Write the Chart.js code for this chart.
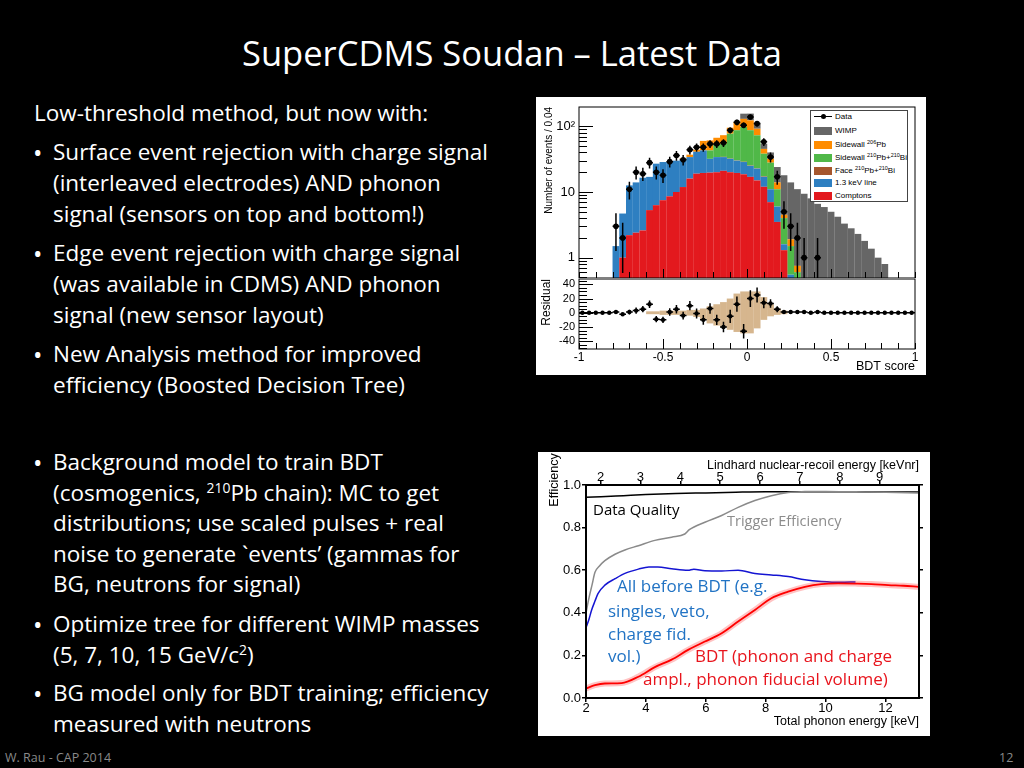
<!DOCTYPE html>
<html>
<head>
<meta charset="utf-8">
<script src="https://cdn.jsdelivr.net/npm/chart.js@4.4.1/dist/chart.umd.min.js"></script>
<style>
  body { margin: 0; width: 1024px; height: 768px; overflow: hidden; background: #000; position: relative;
         font-family: 'Open Sans', sans-serif; color: #fff; }
  .ln { position: absolute; white-space: nowrap; font-size: 22.5px; line-height: 30px; }
  .ln.b { font-size: 25px; left: 33px; }
  .ln sup, .ann sup { font-size: 0.62em; vertical-align: super; line-height: 0; }
  .ann { position: absolute; white-space: nowrap; line-height: 1.362; }
  .box { position: absolute; background: #fff; }
  .box canvas { position: absolute; left: 0; }
  #bdtLegend { position: absolute; left: 274px; top: 13px; width: 96px; height: 90px; border: 1px solid #444;
               background: #fff; font: 8px 'Liberation Sans', Arial, sans-serif; color: #000; }
  #bdtLegend .row { position: absolute; left: 0; height: 10px; line-height: 10px; padding-left: 24px; white-space: nowrap; }
  #bdtLegend .row sup { font-size: 5.5px; vertical-align: 3px; line-height: 0; }
  #bdtLegend .mk { position: absolute; left: 3px; top: 1px; width: 18px; height: 8px; }
  #bdtLegend .mk.data { top: 4px; height: 0; border-top: 1.5px solid #000; }
  #bdtLegend .mk.data::after { content: ''; position: absolute; left: 6.5px; top: -3.5px; width: 5px; height: 5px;
                               border-radius: 50%; background: #000; }
</style>
</head>
<body>

<div class="ln" style="left:0;width:1024px;text-align:center;top:29px;font-size:34.5px;line-height:47px;">SuperCDMS Soudan – Latest Data</div>

<div class="ln" style="left:34px;top:98px;">Low-threshold method, but now with:</div>
<div class="ln b" style="top:137px;">•</div>
<div class="ln" style="left:53px;top:137px;">Surface event rejection with charge signal</div>
<div class="ln" style="left:53px;top:168px;">(interleaved electrodes) AND phonon</div>
<div class="ln" style="left:53px;top:199px;">signal (sensors on top and bottom!)</div>
<div class="ln b" style="top:238px;">•</div>
<div class="ln" style="left:53px;top:238px;">Edge event rejection with charge signal</div>
<div class="ln" style="left:53px;top:269px;">(was available in CDMS) AND phonon</div>
<div class="ln" style="left:53px;top:300px;">signal (new sensor layout)</div>
<div class="ln b" style="top:339px;">•</div>
<div class="ln" style="left:53px;top:339px;">New Analysis method for improved</div>
<div class="ln" style="left:53px;top:370px;">efficiency (Boosted Decision Tree)</div>
<div class="ln b" style="top:447px;">•</div>
<div class="ln" style="left:53px;top:447px;">Background model to train BDT</div>
<div class="ln" style="left:53px;top:478px;">(cosmogenics, <sup>210</sup>Pb chain): MC to get</div>
<div class="ln" style="left:53px;top:508px;">distributions; use scaled pulses + real</div>
<div class="ln" style="left:53px;top:539px;">noise to generate `events’ (gammas for</div>
<div class="ln" style="left:53px;top:569px;">BG, neutrons for signal)</div>
<div class="ln b" style="top:609px;">•</div>
<div class="ln" style="left:53px;top:609px;">Optimize tree for different WIMP masses</div>
<div class="ln" style="left:53px;top:640px;">(5, 7, 10, 15 GeV/c<sup>2</sup>)</div>
<div class="ln b" style="top:678px;">•</div>
<div class="ln" style="left:53px;top:678px;">BG model only for BDT training; efficiency</div>
<div class="ln" style="left:53px;top:709px;">measured with neutrons</div>

<div class="ann" style="left:5px;top:749px;font-size:12.5px;color:#8a8a8a;">W. Rau - CAP 2014</div>
<div class="ann" style="left:999px;top:749px;font-size:12.5px;color:#8a8a8a;">12</div>

<!-- BDT score distribution -->
<div class="box" style="left:536px;top:97px;width:390px;height:278px;">
  <canvas id="histChart" width="390" height="182" style="top:0;"></canvas>
  <canvas id="residChart" width="390" height="96" style="top:182px;"></canvas>
  <div id="bdtLegend">
    <div class="row" style="top:1px;"><span class="mk data"></span>Data</div>
    <div class="row" style="top:15px;"><span class="mk" style="background:#666666;"></span>WIMP</div>
    <div class="row" style="top:28.5px;"><span class="mk" style="background:#ff8c00;"></span>Sidewall <sup>206</sup>Pb</div>
    <div class="row" style="top:42px;"><span class="mk" style="background:#50b848;"></span>Sidewall <sup>210</sup>Pb+<sup>210</sup>Bi</div>
    <div class="row" style="top:54.5px;"><span class="mk" style="background:#a5562d;"></span>Face <sup>210</sup>Pb+<sup>210</sup>Bi</div>
    <div class="row" style="top:67px;"><span class="mk" style="background:#2e7fc1;"></span>1.3 keV line</div>
    <div class="row" style="top:79.5px;"><span class="mk" style="background:#e3191e;"></span>Comptons</div>
  </div>
</div>

<!-- efficiency curves -->
<div class="box" style="left:538px;top:452px;width:392px;height:284px;">
  <canvas id="effChart" width="392" height="284" style="top:0;"></canvas>
</div>
<div class="ann" style="left:553.7px;top:480px;font:12.5px 'Liberation Sans',Arial,sans-serif;color:#000;transform:translate(-50%,-50%) rotate(-90deg);">Efficiency</div>
<div class="ann" style="left:593px;top:499px;font-size:15px;color:#000;">Data Quality</div>
<div class="ann" style="left:727px;top:510.5px;font-size:14.5px;color:#8c8c8c;">Trigger Efficiency</div>
<div class="ann" style="left:617px;top:574px;font-size:17px;color:#2173c4;">All before BDT (e.g.</div>
<div class="ann" style="left:608px;top:598.5px;font-size:17px;color:#2173c4;">singles, veto,</div>
<div class="ann" style="left:608px;top:622px;font-size:17px;color:#2173c4;">charge fid.</div>
<div class="ann" style="left:608px;top:643.5px;font-size:17px;color:#2173c4;">vol.)</div>
<div class="ann" style="left:695px;top:643.5px;font-size:17px;color:#e8141c;">BDT (phonon and charge</div>
<div class="ann" style="left:643px;top:667px;font-size:17px;color:#e8141c;">ampl., phonon fiducial volume)</div>

<script>
// ---- BDT score histogram: 50 bins of 0.04 from -1 to 1 ----
const BIN_LO = -1;
const BIN_W = 0.04;

const DATA_COUNTS = [
  0, 0, 0, 0, 0,   3, 2, 11, 20, 19,
  28, 20, 18, 29, 36,   31, 44, 48, 48, 54,
  54, 56, 87, 115, 104,   139, 110, 58, 34, 17,
  5, 3, 2, 1, 0,   1, 0, 0, 0, 0,
  0, 0, 0, 0, 0,   0, 0, 0, 0, 0
];
const COMPTONS = [
  0, 0, 0, 0, 0,   0, 1.0, 2.2, 2.4, 2.6,
  5.3, 6.3, 7.5, 8.6, 10,   11.9, 16, 19, 19.5, 19.7,
  20, 21, 20, 19.5, 18.6,   17, 15, 12, 7, 3.5,
  1.3, 0, 0, 0, 0,   0, 0, 0, 0, 0,
  0, 0, 0, 0, 0,   0, 0, 0, 0, 0
];
const LINE_13KEV = [
  0, 0, 0, 0, 0,   1.5, 3.7, 10.4, 11.6, 13.9,
  11.7, 20.7, 21.1, 20, 20,   20.1, 18, 22, 23.5, 12.3,
  14, 13, 12, 10.5, 10,   8, 7.7, 5, 4, 2.5,
  0.3, 0.55, 0, 0, 0,   0, 0, 0, 0, 0,
  0, 0, 0, 0, 0,   0, 0, 0, 0, 0
];
const FACE = [
  0, 0, 0, 0, 0,   0, 0, 0, 0, 0,
  0, 0, 0, 0, 0,   0, 0, 0, 0, 0,
  0, 0.3, 0.3, 0.3, 0.3,   0.3, 0.3, 0.3, 0, 0,
  0, 0, 0, 0, 0,   0, 0, 0, 0, 0,
  0, 0, 0, 0, 0,   0, 0, 0, 0, 0
];
const SIDEWALL_210 = [
  0, 0, 0, 0, 0,   0, 0, 0, 0, 0,
  0, 0, 0, 0, 0,   0, 0, 0, 0, 11,
  20, 20, 45, 57, 69,   62, 50, 21, 17, 5,
  2.4, 0.95, 0.6, 0, 0,   0, 0, 0, 0, 0,
  0, 0, 0, 0, 0,   0, 0, 0, 0, 0
];
const SIDEWALL_206 = [
  0, 0, 0, 0, 0,   0, 0, 0, 0, 0,
  0, 0, 0, 0, 0,   1, 3, 3, 17, 18,
  13, 19, 18, 29, 32,   36, 19, 7, 4, 3,
  0.5, 0.4, 0.15, 0, 0,   0, 0, 0, 0, 0,
  0, 0, 0, 0, 0,   0, 0, 0, 0, 0
];
const WIMP = [
  0, 0, 0, 0, 0,   0, 0, 0, 0, 0,
  0, 0, 0, 0, 0,   0, 0, 0, 0, 0,
  0, 0, 0, 0, 26,   33, 18, 9, 8, 10,
  13.5, 12.1, 10.3, 9.4, 8,   6.6, 5.9, 5, 4.2, 3.3,
  2.8, 2.3, 1.8, 1.37, 1.0,   0.8, 0, 0, 0, 0
];
const RESIDUAL = [
  0, 0, 0, 0, 0,   1, -2, 1, 3, 5,
  12, -9, -10, 1, 5,   -4, 10, -1, -10, 6,
  -10, -20, -5, 12, -26,   20, 25, 14, 13, 5,
  1, 1, 1, 1, 0,   1, 0, 0, 0, 0,
  0, 0, 0, 0, 0,   0, 0, 0, 0, 0
];
// expected spread of the residual (tan band), bins 10..30
const BAND_FIRST = 10;
const BAND_LO = [-2, -2, -3, -3, -3, -3, -4, -6, -9, -15, -18, -21, -24, -27, -29, -29, -22, -10, -5, -3, -2];
const BAND_HI = [2, 2, 3, 3, 3, 3, 4, 4, 6, 9, 12, 15, 20, 27, 30, 30, 30, 22, 12, 6, 3];

// ---- efficiency vs total phonon energy [keV] ----
const DQ_E    = [2.0, 2.5, 3.0, 3.5, 4.0, 5.0, 6.0, 7.0, 8.0, 9.0, 10, 11, 12, 13.1];
const DQ_EFF  = [0.942, 0.945, 0.948, 0.952, 0.955, 0.96, 0.963, 0.966, 0.968, 0.968, 0.968, 0.968, 0.967, 0.967];
const TRIG_E   = [2.0, 2.1, 2.2, 2.3, 2.45, 2.63, 2.97, 3.3, 3.75, 4.3, 4.86, 5.3, 5.45, 5.97, 6.53, 7.08, 7.64, 8.19, 8.75, 9.31, 10, 11, 12, 13.1];
const TRIG_EFF = [0.40, 0.47, 0.53, 0.59, 0.62, 0.645, 0.675, 0.695, 0.715, 0.74, 0.755, 0.77, 0.79, 0.825, 0.857, 0.895, 0.927, 0.95, 0.965, 0.969, 0.97, 0.968, 0.966, 0.963];
const PRE_E   = [2.0, 2.1, 2.18, 2.3, 2.4, 2.63, 2.97, 3.3, 3.75, 4.1, 4.4, 4.86, 5.41, 5.6, 5.97, 6.53, 7.08, 7.64, 8.19, 8.75, 9.31, 9.86, 10.5, 11.0];
const PRE_EFF = [0.33, 0.37, 0.41, 0.455, 0.49, 0.53, 0.56, 0.585, 0.605, 0.615, 0.615, 0.607, 0.60, 0.605, 0.597, 0.596, 0.60, 0.585, 0.578, 0.57, 0.555, 0.547, 0.543, 0.545];
const BDT_E   = [2.0, 2.3, 2.63, 3.19, 3.75, 4.3, 4.86, 5.41, 5.75, 5.97, 6.53, 7.08, 7.64, 8.19, 8.75, 9.31, 9.86, 10.42, 11.0, 11.53, 12.09, 12.6, 13.1];
const BDT_EFF = [0.045, 0.06, 0.068, 0.07, 0.1, 0.145, 0.18, 0.226, 0.25, 0.265, 0.304, 0.359, 0.413, 0.468, 0.499, 0.522, 0.535, 0.538, 0.537, 0.535, 0.53, 0.527, 0.522];
const PHONON_TICKS = [2, 4, 6, 8, 10, 12];
const LINDHARD_TICKS = [2, 3, 4, 5, 6, 7, 8, 9];

Chart.defaults.font.family = "'Liberation Sans', Arial, sans-serif";
Chart.defaults.color = '#000';
Chart.defaults.animation = false;

const binCenters = DATA_COUNTS.map((_, i) => Math.round((BIN_LO + (i + 0.5) * BIN_W) * 1000) / 1000);
const asBins = arr => arr.map((v, i) => ({ x: binCenters[i], y: v }));
const xy = (xs, ys) => xs.map((x, i) => ({ x: x, y: ys[i] }));

function range(a, b, d) {
  const out = [];
  for (let v = a; v <= b + 1e-9; v += d) out.push(Math.round(v * 1000) / 1000);
  return out;
}

// fixed axis size, and no extra room for overhanging labels
function fixSize(prop, px) {
  return s => {
    s[prop] = px;
    s.paddingTop = 0; s.paddingBottom = 0; s.paddingLeft = 0; s.paddingRight = 0;
  };
}

// frame box plus inward tick marks, ROOT style
const rootAxes = {
  id: 'rootAxes',
  afterDraw(chart, args, opts) {
    const { ctx, chartArea: a } = chart;
    ctx.save();
    ctx.strokeStyle = '#000';
    ctx.lineWidth = 1;
    (opts.marks || []).forEach(m => {
      const s = chart.scales[m.scale];
      ctx.beginPath();
      m.values.forEach(v => {
        const p = Math.round(s.getPixelForValue(v)) + 0.5;
        if (m.edge === 'bottom') { ctx.moveTo(p, a.bottom); ctx.lineTo(p, a.bottom - m.len); }
        else { ctx.moveTo(a.left, p); ctx.lineTo(a.left + m.len, p); }
      });
      ctx.stroke();
    });
    ctx.lineWidth = opts.frameWidth || 1;
    ctx.strokeRect(a.left, a.top, a.right - a.left, a.bottom - a.top);
    ctx.restore();
  }
};

// poisson error bars + bin-width bars for the data points
const errorBars = {
  id: 'errorBars',
  afterDatasetsDraw(chart, args, opts) {
    const { ctx, chartArea: a, scales: { x, y } } = chart;
    const ds = chart.data.datasets[opts.dataset];
    ctx.save();
    ctx.beginPath();
    ctx.rect(a.left, a.top, a.right - a.left, a.bottom - a.top);
    ctx.clip();
    ctx.strokeStyle = '#000';
    ctx.lineWidth = 1.5;
    ctx.beginPath();
    ds.data.forEach((d, i) => {
      if (d.y == null) return;
      const err = Math.sqrt(opts.counts[i]);
      const px = x.getPixelForValue(d.x);
      const py = y.getPixelForValue(d.y);
      ctx.moveTo(x.getPixelForValue(d.x - BIN_W / 2), py);
      ctx.lineTo(x.getPixelForValue(d.x + BIN_W / 2), py);
      if (err > 0) {
        const lo = d.y - err;
        const yb = (y.type === 'logarithmic' && lo <= y.min) ? a.bottom : y.getPixelForValue(lo);
        ctx.moveTo(px, y.getPixelForValue(d.y + err));
        ctx.lineTo(px, yb);
      }
    });
    ctx.stroke();
    ctx.restore();
  }
};

const logMinor = [0.5, 0.6, 0.7, 0.8, 0.9, 2, 3, 4, 5, 6, 7, 8, 9, 20, 30, 40, 50, 60, 70, 80, 90];

new Chart(document.getElementById('histChart'), {
  type: 'bar',
  data: {
    datasets: [
      { label: 'Comptons', data: asBins(COMPTONS), backgroundColor: '#e3191e' },
      { label: '1.3 keV line', data: asBins(LINE_13KEV), backgroundColor: '#2e7fc1' },
      { label: 'Face 210Pb+210Bi', data: asBins(FACE), backgroundColor: '#a5562d' },
      { label: 'Sidewall 210Pb+210Bi', data: asBins(SIDEWALL_210), backgroundColor: '#50b848' },
      { label: 'Sidewall 206Pb', data: asBins(SIDEWALL_206), backgroundColor: '#ff8c00' },
      { label: 'WIMP', data: asBins(WIMP), backgroundColor: '#666666' },
      {
        type: 'line', label: 'Data', stack: 'data', order: -1,
        data: DATA_COUNTS.map((v, i) => ({ x: binCenters[i], y: v > 0 ? v : null })),
        showLine: false, pointRadius: 2.8, pointBackgroundColor: '#000', pointBorderWidth: 0
      }
    ]
  },
  options: {
    responsive: false,
    layout: { autoPadding: false, padding: { left: 0, right: 11, top: 10, bottom: 1 } },
    datasets: { bar: { barPercentage: 1.02, categoryPercentage: 1, borderWidth: 0 } },
    plugins: {
      legend: { display: false },
      tooltip: { enabled: false },
      errorBars: { dataset: 6, counts: DATA_COUNTS },
      rootAxes: {
        marks: [
          { scale: 'x', edge: 'bottom', values: range(-1, 1, 0.1), len: 6 },
          { scale: 'x', edge: 'bottom', values: [-0.5, 0, 0.5], len: 9 },
          { scale: 'y', edge: 'left', values: logMinor, len: 8 },
          { scale: 'y', edge: 'left', values: [1, 10, 100], len: 14 }
        ]
      }
    },
    scales: {
      x: { type: 'linear', min: -1, max: 1, offset: false, stacked: true, display: false },
      y: {
        type: 'logarithmic', min: 0.49, max: 197, stacked: true,
        afterBuildTicks: s => { s.ticks = [1, 10, 100].map(v => ({ value: v })); },
        ticks: { autoSkip: false, padding: 4, font: { size: 13 }, callback: v => v === 100 ? '10²' : String(v) },
        grid: { display: false, drawTicks: false },
        border: { display: false },
        title: { display: true, text: 'Number of events / 0.04', align: 'end', font: { size: 10 }, padding: { top: 7, bottom: 0 } },
        afterFit: fixSize('width', 43)
      }
    }
  },
  plugins: [rootAxes, errorBars]
});

const bandData = BAND_LO.map((lo, k) => ({ x: binCenters[BAND_FIRST + k], y: [lo, BAND_HI[k]] }));

new Chart(document.getElementById('residChart'), {
  type: 'bar',
  data: {
    datasets: [
      { label: 'expected spread', data: bandData, backgroundColor: '#d6b68e', borderWidth: 0, barPercentage: 1.02, categoryPercentage: 1 },
      {
        type: 'line', label: 'Residual', order: -1,
        data: asBins(RESIDUAL),
        showLine: false, pointRadius: 2.2, pointBackgroundColor: '#000', pointBorderWidth: 0
      }
    ]
  },
  options: {
    responsive: false,
    layout: { autoPadding: false, padding: { left: 0, right: 11, top: 0, bottom: 0 } },
    plugins: {
      legend: { display: false },
      tooltip: { enabled: false },
      errorBars: { dataset: 1, counts: DATA_COUNTS },
      rootAxes: {
        marks: [
          { scale: 'x', edge: 'bottom', values: range(-1, 1, 0.1), len: 6 },
          { scale: 'x', edge: 'bottom', values: [-0.5, 0, 0.5], len: 10 },
          { scale: 'y', edge: 'left', values: range(-50, 45, 5), len: 8 },
          { scale: 'y', edge: 'left', values: [-40, -20, 0, 20, 40], len: 14 }
        ]
      }
    },
    scales: {
      x: {
        type: 'linear', min: -1, max: 1, offset: false,
        afterBuildTicks: s => { s.ticks = [-1, -0.5, 0, 0.5, 1].map(v => ({ value: v })); },
        ticks: { autoSkip: false, maxRotation: 0, padding: 1, font: { size: 12 }, callback: v => String(v) },
        grid: { display: false, drawTicks: false },
        border: { display: false },
        title: { display: true, text: 'BDT score', align: 'end', font: { size: 12.5 }, padding: { top: 0, bottom: 1 } },
        afterFit: fixSize('height', 26)
      },
      y: {
        type: 'linear', min: -51, max: 47.5,
        afterBuildTicks: s => { s.ticks = [-40, -20, 0, 20, 40].map(v => ({ value: v })); },
        ticks: { autoSkip: false, padding: 4, font: { size: 11 }, callback: v => String(v) },
        grid: { display: false, drawTicks: false },
        border: { display: false },
        title: { display: true, text: 'Residual', align: 'end', font: { size: 12 }, padding: { top: 3, bottom: 0 } },
        afterFit: fixSize('width', 43)
      }
    }
  },
  plugins: [rootAxes, errorBars]
});

const curve = { showLine: true, pointRadius: 0, fill: false, cubicInterpolationMode: 'monotone' };
const tickGrid = { drawOnChartArea: false, drawTicks: true, tickLength: 4, color: '#000', lineWidth: 1.5 };

new Chart(document.getElementById('effChart'), {
  type: 'scatter',
  data: {
    datasets: [
      Object.assign({ label: 'BDT', data: xy(BDT_E, BDT_EFF), borderColor: '#ff0000', borderWidth: 1.8 }, curve),
      Object.assign({ label: 'BDT band', data: xy(BDT_E, BDT_EFF), borderColor: 'rgba(255,40,40,0.28)', borderWidth: 6 }, curve),
      Object.assign({ label: 'All before BDT', data: xy(PRE_E, PRE_EFF), borderColor: '#1414d2', borderWidth: 1.5 }, curve),
      Object.assign({ label: 'Trigger Efficiency', data: xy(TRIG_E, TRIG_EFF), borderColor: '#8a8a8a', borderWidth: 1.5 }, curve),
      Object.assign({ label: 'Data Quality', data: xy(DQ_E, DQ_EFF), borderColor: '#000000', borderWidth: 1.5 }, curve)
    ]
  },
  options: {
    responsive: false,
    layout: { autoPadding: false, padding: 0 },
    plugins: { legend: { display: false }, tooltip: { enabled: false }, rootAxes: { frameWidth: 2 } },
    scales: {
      x: {
        type: 'linear', position: 'bottom', min: 2, max: 13.12,
        afterBuildTicks: s => { s.ticks = PHONON_TICKS.map(v => ({ value: v })); },
        ticks: { autoSkip: false, padding: -1, font: { size: 13 }, maxRotation: 0, callback: v => String(v) },
        grid: tickGrid, border: { display: false },
        title: { display: true, text: 'Total phonon energy [keV]', align: 'end', font: { size: 12.5 }, padding: { top: 0, bottom: 7 } },
        afterFit: fixSize('height', 38)
      },
      x2: {
        type: 'linear', position: 'top', min: 1.634, max: 9.985,
        afterBuildTicks: s => { s.ticks = LINDHARD_TICKS.map(v => ({ value: v })); },
        ticks: { autoSkip: false, padding: -4.5, font: { size: 13 }, maxRotation: 0, callback: v => String(v) },
        grid: tickGrid, border: { display: false },
        title: { display: true, text: 'Lindhard nuclear-recoil energy [keVnr]', align: 'end', font: { size: 12.5 }, padding: { top: 6.5, bottom: 0 } },
        afterFit: fixSize('height', 33)
      },
      y: {
        type: 'linear', min: 0, max: 1,
        ticks: { stepSize: 0.2, padding: 1, font: { size: 13 }, callback: v => v.toFixed(1) },
        grid: tickGrid, border: { display: false },
        afterFit: fixSize('width', 48)
      },
      y2: {
        type: 'linear', position: 'right', min: 0, max: 1,
        ticks: { stepSize: 0.2, display: false },
        grid: tickGrid, border: { display: false },
        afterFit: fixSize('width', 11)
      }
    }
  },
  plugins: [rootAxes]
});
</script>
</body>
</html>
